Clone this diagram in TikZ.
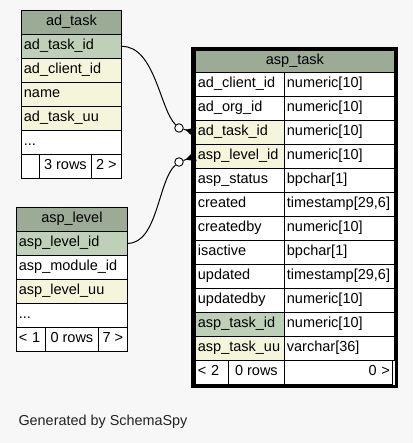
\documentclass[tikz,border=0pt]{standalone}
\usepackage{fontspec}
\setmainfont{Liberation Sans}
\usepackage{xcolor}
\definecolor{PageBg}{HTML}{F7F7F7}
\definecolor{HeadGreen}{HTML}{9BAB96}
\definecolor{KeyGreen}{HTML}{BED1B8}
\definecolor{IdxYellow}{HTML}{F5F5DC}
\definecolor{NoteGray}{HTML}{222222}
\usepackage{tikz}
\usetikzlibrary{arrows.meta}

\begin{document}
\begin{tikzpicture}[x=1pt,y=-1pt,
    cell/.style={draw, line width=0.8pt, anchor=north west, minimum height=24pt,
      inner xsep=2.5pt, inner ysep=0pt, text height=10pt, text depth=3pt,
      font=\fontsize{14.5}{16}\selectfont},
    head/.style={cell, fill=HeadGreen, minimum width=#1},
    field/.style={cell, text width=#1, align=left},
    odot/.style={circle, draw, fill=white, line width=0.9pt, minimum size=8.5pt, inner sep=0pt},
    link/.style={line width=1pt},
    crowfoot/.style={link, -{Triangle[reversed, length=10pt, width=10pt]}}]
  \fill[PageBg] (0,0) rectangle (413,443);

  % ad_task
  \node[head=100pt] (adtask) at (21,10) {ad\_task};
  \node[field=95pt, fill=KeyGreen] (adtask-id) at (21,34) {ad\_task\_id};
  \node[field=95pt, fill=IdxYellow] (adtask-client) at (21,58) {ad\_client\_id};
  \node[field=95pt, fill=IdxYellow] (adtask-name) at (21,82) {name};
  \node[field=95pt, fill=IdxYellow] (adtask-uu) at (21,106) {ad\_task\_uu};
  \node[field=95pt, fill=white] (adtask-more) at (21,130) {...};
  \node[cell, fill=white, minimum width=18pt] (adtask-prev) at (21,154) {};
  \node[cell, fill=white, minimum width=52pt] (adtask-rows) at (39,154) {3 rows};
  \node[cell, fill=white, minimum width=30pt] (adtask-next) at (91,154) {2 >};

  % asp_level
  \node[head=111pt] (asplevel) at (16,207) {asp\_level};
  \node[field=106pt, fill=KeyGreen] (asplevel-id) at (16,231) {asp\_level\_id};
  \node[field=106pt, fill=white] (asplevel-module) at (16,255) {asp\_module\_id};
  \node[field=106pt, fill=IdxYellow] (asplevel-uu) at (16,279) {asp\_level\_uu};
  \node[field=106pt, fill=white] (asplevel-more) at (16,303) {...};
  \node[field=24pt, fill=white] (asplevel-prev) at (16,327) {< 1};
  \node[cell, fill=white, minimum width=53pt] (asplevel-rows) at (45,327) {0 rows};
  \node[cell, fill=white, minimum width=29pt] (asplevel-next) at (98,327) {7 >};

  % asp_task
  \node[head=199pt, minimum height=22pt] (asptask) at (195,50) {asp\_task};
  \foreach \col/\type/\shade [count=\i] in {
      ad\_client\_id/numeric[10]/white, ad\_org\_id/numeric[10]/white,
      ad\_task\_id/numeric[10]/IdxYellow, asp\_level\_id/numeric[10]/IdxYellow,
      asp\_status/bpchar[1]/white, created/{timestamp[29,6]}/white,
      createdby/numeric[10]/white, isactive/bpchar[1]/white,
      updated/{timestamp[29,6]}/white, updatedby/numeric[10]/white,
      asp\_task\_id/numeric[10]/KeyGreen, asp\_task\_uu/varchar[36]/IdxYellow} {
    \node[field=84pt, fill=\shade] (asptask-\i) at (195,{48+24*\i}) {\col};
    \node[field=105pt, fill=white] (asptask-type-\i) at (284,{48+24*\i}) {\type};
  }
  \node[field=28pt, fill=white] (asptask-prev) at (195,360) {< 2};
  \node[cell, fill=white, minimum width=56pt] (asptask-rows) at (228,360) {0 rows};
  \node[field=103pt, align=right, fill=white] (asptask-next) at (284,360) {0 >};
  \draw[line width=3.5pt] (192.75,48.75) rectangle (396.25,386.25);

  % relations
  \node[odot] (taskdot) at (179,128) {};
  \node[odot] (leveldot) at (179,162) {};
  \draw[link] (adtask-id.east) .. controls (155,46) and (160,110) .. (taskdot);
  \draw[crowfoot] (taskdot) -- (asptask-3.west);
  \draw[link] (asplevel-id.east) .. controls (158,243) and (158,180) .. (leveldot);
  \draw[crowfoot] (leveldot) -- (asptask-4.west);

  \node[anchor=west, text=NoteGray, font=\fontsize{14.4}{16}\selectfont] (credit) at (15,422) {Generated by SchemaSpy};
\end{tikzpicture}
\end{document}
